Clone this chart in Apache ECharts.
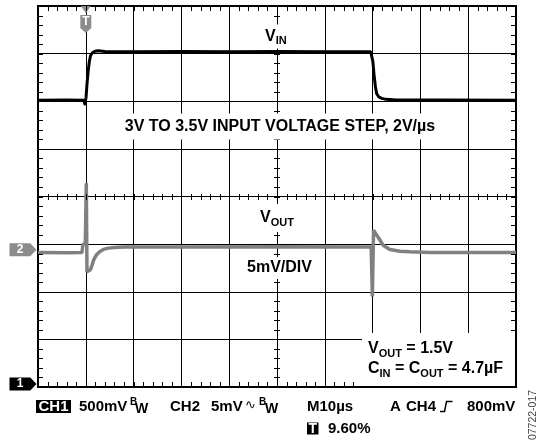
<!DOCTYPE html>
<html>
<head>
<meta charset="utf-8">
<script src="https://cdn.jsdelivr.net/npm/echarts@6/dist/echarts.min.js"></script>
<style>
html, body { margin: 0; padding: 0; background: #fff; }
#chart { width: 540px; height: 444px; }
</style>
</head>
<body>
<div id="chart"></div>
<script>
// scope settings (10 x 8 divisions, y centred on 0)
const T_MIN = -10, T_MAX = 90, T_STEP = 10;      // µs, M10µs, trigger at 0
const T_SUB = 2;                                 // 5 sub-divisions per division
const DIV_MIN = -4, DIV_MAX = 4, DIV_SUB = 0.2;
const T_CENTRE = 40;
const VIN_VOLTS_PER_DIV = 0.5;                   // CH1 500mV
const VOUT_MV_PER_DIV = 5;                       // CH2 5mV, AC coupled
const CH1_REF_DIV = -4;
const CH2_REF_DIV = -1.12;

// CH1: VIN (volts)
const vinTime  = [-10, -4, -0.4, -0.12, -0.05, 0.05, 0.25, 0.5, 0.75, 1.0, 1.4, 1.9, 2.6, 4, 10, 20, 30, 40, 50, 59.6, 59.85, 60.05, 60.3, 60.6, 60.85, 61.3, 61.9, 62.8, 65, 75, 90];
const vinVolts = [3.01, 3.012, 3.01, 2.96, 3.01, 3.04, 3.18, 3.32, 3.42, 3.48, 3.51, 3.525, 3.53, 3.522, 3.52, 3.522, 3.52, 3.521, 3.52, 3.52, 3.5, 3.42, 3.28, 3.15, 3.08, 3.045, 3.03, 3.02, 3.013, 3.012, 3.01];

// CH2: VOUT deviation (mV)
const voutTime = [-10, -4, -0.8, -0.6, -0.1, 0.1, 0.25, 0.6, 0.95, 1.3, 1.7, 2.2, 2.9, 3.7, 4.7, 6, 8, 20, 40, 59.7, 59.95, 60.2, 60.6, 61.2, 62.2, 63.6, 65.7, 67.8, 72, 80, 90];
const voutMv   = [-0.29, -0.3, -0.29, 0.6, 0.65, 7.0, -2.3, -2.35, -2.1, -1.6, -1.0, -0.55, -0.2, 0.05, 0.18, 0.25, 0.3, 0.3, 0.32, 0.3, -4.9, 2.07, 1.75, 1.3, 0.49, 0.04, -0.14, -0.21, -0.27, -0.29, -0.29];

const FONT = '"Liberation Sans", Arial, Helvetica, sans-serif';
const TRACE_GRAY = "#808080";
const MARK_GRAY = "#8c8c8c";

const toCh1 = (v) => CH1_REF_DIV + v / VIN_VOLTS_PER_DIV;
const toCh2 = (mv) => CH2_REF_DIV + mv / VOUT_MV_PER_DIV;
const vinData = vinTime.map((t, i) => [t, toCh1(vinVolts[i])]);
const voutData = voutTime.map((t, i) => [t, toCh2(voutMv[i])]);

const rich = {
    m: { fontFamily: FONT, fontWeight: "bold", fontSize: 16, fill: "#000" },
    s: { fontFamily: FONT, fontWeight: "bold", fontSize: 11, fill: "#000", padding: [9, 0, 0, 0] },
};

function txt(x, y, text, opts) {
    return {
        type: "text", x, y, z: 100,
        style: Object.assign({
            text, fontFamily: FONT, fontWeight: "bold", fontSize: 15, fill: "#000",
            align: "left", verticalAlign: "middle",
        }, opts),
    };
}
function box(x, y, w, h, fill) {
    return { type: "rect", z: 90, shape: { x, y, width: w, height: h }, style: { fill } };
}

const ROW1 = 406.5, ROW2 = 428.5;
const labels = [
    txt(262, 36.5, "{m|V}{s|IN}", { rich, backgroundColor: "#fff", padding: [2, 3] }),
    txt(280, 126.5, "3V TO 3.5V INPUT VOLTAGE STEP, 2V/µs", { fontSize: 16, align: "center", backgroundColor: "#fff", padding: [5, 6] }),
    txt(257, 218, "{m|V}{s|OUT}", { rich, backgroundColor: "#fff", padding: [4, 3] }),
    txt(244, 268, "5mV/DIV", { fontSize: 16, backgroundColor: "#fff", padding: [3, 3] }),

    box(362, 333, 153, 53, "#fff"),
    txt(368, 349, "{m|V}{s|OUT}{m| = 1.5V}", { rich }),
    txt(368, 369, "{m|C}{s|IN}{m| = C}{s|OUT}{m| = 4.7µF}", { rich }),

    box(36, 400, 35, 13, "#000"),
    txt(53.5, ROW1, "CH1", { fill: "#fff", align: "center" }),
    txt(79, ROW1, "500mV"),
    txt(130, ROW1 - 4, "B", { fontSize: 10 }),
    txt(135, ROW1 + 3, "W", { fontSize: 14 }),
    txt(170, ROW1, "CH2"),
    txt(211, ROW1, "5mV"),
    txt(245, ROW1 - 1, "∿", { fontFamily: '"DejaVu Sans", sans-serif', fontWeight: "normal", fontSize: 13 }),
    txt(259, ROW1 - 4, "B", { fontSize: 10 }),
    txt(265, ROW1 + 3, "W", { fontSize: 14 }),
    txt(307, ROW1, "M10µs"),
    txt(390, ROW1, "A"),
    txt(406, ROW1, "CH4"),
    {
        type: "polyline", z: 100,
        shape: { points: [[440, 411.5], [444.5, 411.5], [446.5, 401.5], [452.5, 401.5]] },
        style: { stroke: "#000", lineWidth: 1.5, fill: null },
    },
    txt(467, ROW1, "800mV"),

    box(307, 422.5, 11.5, 12, "#000"),
    txt(312.8, ROW2 + 0.5, "T", { fill: "#fff", align: "center", fontSize: 14 }),
    txt(328, ROW2, "9.60%"),

    {
        type: "text", x: 533, y: 415, z: 100, rotation: Math.PI / 2,
        style: { text: "07722-017", fontFamily: FONT, fontSize: 10.5, fill: "#444", align: "center", verticalAlign: "middle" },
    },
];

const arrowPath = "path://M0,0 L20,0 L26,7 L20,14 L0,14 Z";
const badgePath = "path://M0,0 L10,0 L10,13 L5,18 L0,13 Z";

function chMarker(level, text, color, offsetY) {
    return {
        coord: [T_MIN, level],
        symbol: arrowPath, symbolSize: [27, 13], symbolKeepAspect: false,
        symbolOffset: [-15, offsetY],
        itemStyle: { color },
        label: { show: true, formatter: text, color: "#fff", fontFamily: FONT, fontWeight: "bold", fontSize: 12, offset: [-3, 0] },
    };
}

const chart = echarts.init(document.getElementById("chart"));
chart.setOption({
    animation: false,
    grid: { left: 38, top: 6, right: 24, bottom: 57, show: true, borderColor: "#000", borderWidth: 2 },
    xAxis: {
        type: "value", min: T_MIN, max: T_MAX, interval: T_STEP,
        axisLine: { show: false, onZero: false }, axisTick: { show: false }, axisLabel: { show: false },
        splitLine: { show: true, lineStyle: { color: "#000", width: 1 } },
    },
    yAxis: {
        type: "value", min: DIV_MIN, max: DIV_MAX, interval: 1,
        axisLine: { show: false, onZero: false }, axisTick: { show: false }, axisLabel: { show: false },
        splitLine: { show: true, lineStyle: { color: "#000", width: 1 } },
    },
    series: [
        {
            name: "VIN", type: "line", data: vinData, showSymbol: false, z: 5,
            lineStyle: { color: "#000", width: 3 },
            markPoint: {
                silent: true,
                data: [
                    { coord: [0, DIV_MAX], symbol: "triangle", symbolRotate: 180, symbolSize: [10, 7], symbolOffset: [0, 3.5], itemStyle: { color: MARK_GRAY }, label: { show: false } },
                    { coord: [0, DIV_MAX], symbol: badgePath, symbolSize: [11, 18], symbolKeepAspect: false, symbolOffset: [0, 18], itemStyle: { color: MARK_GRAY },
                      label: { show: true, formatter: "T", color: "#fff", fontFamily: FONT, fontWeight: "bold", fontSize: 12, offset: [0, -2] } },
                    chMarker(CH1_REF_DIV, "1", "#000", -3),
                ],
            },
        },
        {
            name: "VOUT", type: "line", data: voutData, showSymbol: false, z: 4,
            lineStyle: { color: TRACE_GRAY, width: 3.5 },
            markPoint: { silent: true, data: [chMarker(CH2_REF_DIV, "2", MARK_GRAY, 0)] },
        },
    ],
});

// graticule sub-division marks, placed through the grid's own scales
const toPx = (x, y) => chart.convertToPixel({ gridIndex: 0 }, [x, y]);
const half = (v) => Math.round(v) + 0.5;
function tick(x1, y1, x2, y2) {
    return { type: "line", z: 85, silent: true, shape: { x1, y1, x2, y2 }, style: { stroke: "#000", lineWidth: 1 } };
}
const ticks = [];
for (let k = 0; k <= (T_MAX - T_MIN) / T_SUB; k++) {
    const t = T_MIN + k * T_SUB;
    const b = toPx(t, DIV_MIN), top = toPx(t, DIV_MAX), c = toPx(t, 0);
    const x = half(b[0]), cy = Math.round(c[1]);
    ticks.push(tick(x, b[1], x, b[1] - 5), tick(x, top[1], x, top[1] + 5), tick(x, cy - 3, x, cy + 3));
}
for (let k = 0; k <= Math.round((DIV_MAX - DIV_MIN) / DIV_SUB); k++) {
    const v = DIV_MIN + k * DIV_SUB;
    const l = toPx(T_MIN, v), r = toPx(T_MAX, v), c = toPx(T_CENTRE, v);
    const y = half(l[1]), cx = Math.round(c[0]);
    ticks.push(tick(l[0], y, l[0] + 5, y), tick(r[0], y, r[0] - 5, y), tick(cx - 3, y, cx + 3, y));
}

chart.setOption({ graphic: ticks.concat(labels) });
</script>
</body>
</html>
